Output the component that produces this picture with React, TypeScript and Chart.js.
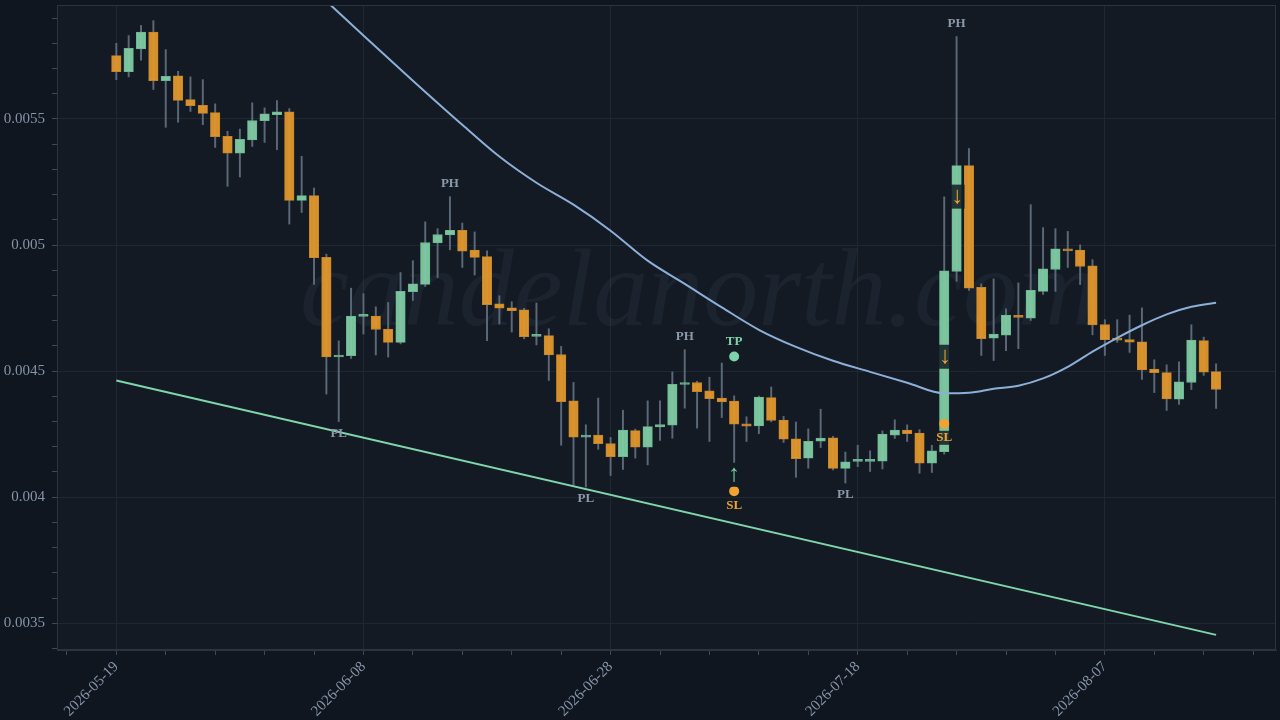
import React, { useEffect, useRef } from 'react';
import { Chart, registerables } from 'chart.js';

Chart.register(...registerables);

// ---------- data ----------
const xTickDays = [0, 20, 40, 60, 80];
const xTickLabels = ['2026-05-19', '2026-06-08', '2026-06-28', '2026-07-18', '2026-08-07'];
const yTickValues = [0.0035, 0.004, 0.0045, 0.005, 0.0055];
const yTickLabels = ['0.0035', '0.004', '0.0045', '0.005', '0.0055'];

const opens = [
  0.005751, 0.005688, 0.005778, 0.005845, 0.005652, 0.005671, 0.005577, 0.005554, 0.005525, 0.005431,
  0.005364, 0.005417, 0.005493, 0.005517, 0.005528, 0.005177, 0.005196, 0.004951, 0.004556, 0.004561,
  0.004717, 0.004718, 0.004667, 0.004614, 0.004815, 0.004844, 0.005008, 0.005040, 0.005058, 0.004980,
  0.004954, 0.004767, 0.004751, 0.004743, 0.004638, 0.004641, 0.004566, 0.004382, 0.004238, 0.004246,
  0.004213, 0.004161, 0.004264, 0.004198, 0.004279, 0.004286, 0.004447, 0.004455, 0.004422, 0.004393,
  0.004381, 0.004291, 0.004283, 0.004395, 0.004306, 0.004231, 0.004155, 0.004222, 0.004235, 0.004114,
  0.004142, 0.004142, 0.004143, 0.004246, 0.004266, 0.004254, 0.004135, 0.004181, 0.004895, 0.005315,
  0.004832, 0.004631, 0.004643, 0.004719, 0.004710, 0.004816, 0.004903, 0.004984, 0.004980, 0.004918,
  0.004685, 0.004628, 0.004625, 0.004616, 0.004508, 0.004494, 0.004389, 0.004455, 0.004621, 0.004498,
];
const highs = [
  0.005800, 0.005831, 0.005871, 0.005890, 0.005775, 0.005689, 0.005667, 0.005656, 0.005560, 0.005451,
  0.005460, 0.005564, 0.005544, 0.005573, 0.005541, 0.005352, 0.005226, 0.004964, 0.004620, 0.004829,
  0.004807, 0.004755, 0.004772, 0.004891, 0.004938, 0.005092, 0.005065, 0.005192, 0.005087, 0.005052,
  0.004977, 0.004799, 0.004775, 0.004749, 0.004770, 0.004668, 0.004598, 0.004455, 0.004287, 0.004393,
  0.004237, 0.004345, 0.004270, 0.004382, 0.004382, 0.004497, 0.004585, 0.004460, 0.004476, 0.004532,
  0.004402, 0.004319, 0.004401, 0.004437, 0.004321, 0.004298, 0.004271, 0.004349, 0.004241, 0.004179,
  0.004206, 0.004184, 0.004263, 0.004307, 0.004287, 0.004268, 0.004206, 0.005191, 0.005827, 0.005383,
  0.004846, 0.004866, 0.004747, 0.004850, 0.005160, 0.005069, 0.005065, 0.005054, 0.005001, 0.004942,
  0.004704, 0.004704, 0.004722, 0.004751, 0.004545, 0.004525, 0.004537, 0.004684, 0.004635, 0.004529,
];
const lows = [
  0.005656, 0.005667, 0.005733, 0.005617, 0.005467, 0.005487, 0.005530, 0.005477, 0.005387, 0.005233,
  0.005270, 0.005391, 0.005407, 0.005378, 0.005083, 0.005129, 0.004844, 0.004409, 0.004300, 0.004550,
  0.004647, 0.004564, 0.004556, 0.004608, 0.004780, 0.004836, 0.004871, 0.004981, 0.004911, 0.004881,
  0.004621, 0.004687, 0.004655, 0.004628, 0.004604, 0.004463, 0.004206, 0.004048, 0.004040, 0.004190,
  0.004086, 0.004110, 0.004155, 0.004128, 0.004225, 0.004234, 0.004353, 0.004274, 0.004221, 0.004316,
  0.004137, 0.004221, 0.004252, 0.004299, 0.004217, 0.004079, 0.004115, 0.004197, 0.004108, 0.004056,
  0.004121, 0.004102, 0.004112, 0.004233, 0.004221, 0.004095, 0.004098, 0.004171, 0.004856, 0.004820,
  0.004562, 0.004542, 0.004581, 0.004589, 0.004701, 0.004804, 0.004816, 0.004911, 0.004843, 0.004644,
  0.004562, 0.004614, 0.004574, 0.004467, 0.004415, 0.004344, 0.004368, 0.004427, 0.004483, 0.004352,
];
const closes = [
  0.005688, 0.005780, 0.005845, 0.005652, 0.005669, 0.005574, 0.005553, 0.005522, 0.005430, 0.005364,
  0.005419, 0.005494, 0.005520, 0.005528, 0.005177, 0.005196, 0.004950, 0.004556, 0.004562, 0.004718,
  0.004719, 0.004665, 0.004614, 0.004816, 0.004846, 0.005010, 0.005042, 0.005058, 0.004976, 0.004951,
  0.004764, 0.004750, 0.004740, 0.004637, 0.004643, 0.004564, 0.004379, 0.004238, 0.004244, 0.004212,
  0.004161, 0.004266, 0.004198, 0.004280, 0.004288, 0.004448, 0.004455, 0.004419, 0.004391, 0.004378,
  0.004290, 0.004282, 0.004397, 0.004304, 0.004230, 0.004153, 0.004222, 0.004234, 0.004114, 0.004140,
  0.004144, 0.004145, 0.004250, 0.004266, 0.004252, 0.004135, 0.004184, 0.004898, 0.005315, 0.004829,
  0.004629, 0.004647, 0.004722, 0.004713, 0.004820, 0.004906, 0.004985, 0.004977, 0.004915, 0.004683,
  0.004625, 0.004623, 0.004615, 0.004505, 0.004494, 0.004390, 0.004458, 0.004623, 0.004496, 0.004427,
];

// moving average
const maDays = [16, 20, 24, 28, 31, 34, 37, 40, 43, 46, 49, 52, 55, 58, 61, 64, 67, 69, 71, 73, 75, 77, 79, 81, 83, 85, 87, 89];
const maValues = [
  0.006013, 0.005831, 0.005652, 0.005477, 0.005351, 0.005247, 0.005160, 0.005057, 0.004938, 0.004846,
  0.004753, 0.004664, 0.004596, 0.004541, 0.004497, 0.004454, 0.004412, 0.004414, 0.004430, 0.004442,
  0.004471, 0.004517, 0.004577, 0.004632, 0.004682, 0.004725, 0.004755, 0.004771,
];

// lower trend line
const trendDays = [0, 89];
const trendValues = [0.004463, 0.003454];

// pivots and trade marks
const pivotHighDays = [27, 46, 68];
const pivotLowDays = [18, 38, 59];
const tpDays = [50];
const tpValues = [0.004558];
const slDays = [50, 67];
const slValues = [0.004024, 0.004291];
const upArrowDays = [50];
const upArrowValues = [0.004089];
const downArrowDays = [67, 68];
const downArrowValues = [0.004557, 0.005192];

// ---------- style ----------
const X_MIN = -4.8;
const X_MAX = 93.85;
const Y_MIN = 0.003394;
const Y_MAX = 0.005952;
const OUTER_BG = '#10161f';
const INNER_BG = '#131a24';
const GRID = '#1e2832';
const AXIS = '#2a3542';
const TICK = '#3e4a58';
const LABEL = '#8494a8';
const UP = 'rgba(127,203,163,0.95)';
const UP_BORDER = '#6cb58f';
const DOWN = 'rgba(224,151,44,0.95)';
const DOWN_BORDER = '#c4852a';
const WICK = '#5b6878';
const MA_COLOR = '#8cafd8';
const TREND_COLOR = '#7fd6aa';
const GREEN_MARK = '#7fd3a8';
const ORANGE_MARK = '#f0a232';
const PIVOT_COLOR = '#8a99ab';
const BOX_BG = 'rgba(19,28,36,0.85)';
const FONT = "'Liberation Serif', 'Times New Roman', serif";

const days = opens.map((_, i) => i);

function drawLabel(
  ctx: CanvasRenderingContext2D,
  text: string,
  x: number,
  y: number,
  color: string,
  font: string,
  box: boolean,
  boxH: number,
  boxW?: number,
) {
  ctx.font = font;
  const w = boxW ?? ctx.measureText(text).width + 6;
  if (box) {
    ctx.fillStyle = BOX_BG;
    ctx.fillRect(x - w / 2, y - boxH / 2, w, boxH);
  }
  ctx.fillStyle = color;
  ctx.textAlign = 'center';
  ctx.textBaseline = 'middle';
  ctx.fillText(text, x, y);
}

const decorPlugin = {
  id: 'decor',
  beforeDraw(chart: any) {
    const { ctx, chartArea: a, width, height } = chart;
    ctx.save();
    ctx.fillStyle = OUTER_BG;
    ctx.fillRect(0, 0, width, height);
    ctx.fillStyle = INNER_BG;
    ctx.fillRect(a.left, a.top, a.right - a.left, a.bottom - a.top);
    ctx.restore();
  },
  beforeDatasetsDraw(chart: any) {
    const { ctx, chartArea: a } = chart;
    ctx.save();
    ctx.beginPath();
    ctx.rect(a.left, a.top, a.right - a.left, a.bottom - a.top);
    ctx.clip();
    ctx.font = `italic 110px ${FONT}`;
    ctx.fillStyle = 'rgba(140,160,180,0.07)';
    ctx.textAlign = 'left';
    ctx.textBaseline = 'alphabetic';
    ctx.fillText('candelanorth.com', 300, 325);
    ctx.restore();
  },
  afterDatasetsDraw(chart: any) {
    const { ctx } = chart;
    const xs = chart.scales.x;
    const ys = chart.scales.y;
    ctx.save();
    const pivotFont = `bold 13px ${FONT}`;
    pivotHighDays.forEach((d) => {
      drawLabel(ctx, 'PH', xs.getPixelForValue(d), ys.getPixelForValue(highs[d]) - 13, PIVOT_COLOR, pivotFont, false, 0);
    });
    pivotLowDays.forEach((d) => {
      drawLabel(ctx, 'PL', xs.getPixelForValue(d), ys.getPixelForValue(lows[d]) + 12, PIVOT_COLOR, pivotFont, false, 0);
    });
    const markFont = `bold 13px ${FONT}`;
    tpDays.forEach((d, i) => {
      const x = xs.getPixelForValue(d);
      const y = ys.getPixelForValue(tpValues[i]);
      ctx.fillStyle = GREEN_MARK;
      ctx.beginPath();
      ctx.arc(x, y, 5, 0, Math.PI * 2);
      ctx.fill();
      drawLabel(ctx, 'TP', x, y - 14.5, GREEN_MARK, markFont, true, 14);
    });
    slDays.forEach((d, i) => {
      const x = xs.getPixelForValue(d);
      const y = ys.getPixelForValue(slValues[i]);
      ctx.fillStyle = ORANGE_MARK;
      ctx.beginPath();
      ctx.arc(x, y, 5, 0, Math.PI * 2);
      ctx.fill();
      drawLabel(ctx, 'SL', x, y + 14, ORANGE_MARK, markFont, true, 14);
    });
    const arrowFont = `bold 24px ${FONT}`;
    upArrowDays.forEach((d, i) => {
      drawLabel(ctx, '\u2191', xs.getPixelForValue(d), ys.getPixelForValue(upArrowValues[i]), GREEN_MARK, arrowFont, true, 24, 14);
    });
    downArrowDays.forEach((d, i) => {
      drawLabel(ctx, '\u2193', xs.getPixelForValue(d) + 1, ys.getPixelForValue(downArrowValues[i]), ORANGE_MARK, arrowFont, true, 24, 14);
    });
    ctx.restore();
  },
  afterDraw(chart: any) {
    const { ctx, chartArea: a } = chart;
    ctx.save();
    ctx.strokeStyle = AXIS;
    ctx.lineWidth = 1;
    ctx.strokeRect(a.left + 0.5, a.top + 0.5, a.right - a.left - 1, a.bottom - a.top - 1);
    ctx.restore();
  },
};

export default function App() {
  const ref = useRef<HTMLCanvasElement>(null);

  useEffect(() => {
    document.body.style.margin = '0';
    document.body.style.background = OUTER_BG;
    const canvas = ref.current;
    if (!canvas) return;

    const bodies = days.map((i) => ({ x: i, y: [opens[i], closes[i]] }));
    const wicks = days.map((i) => ({ x: i, y: [lows[i], highs[i]] }));
    const bodyColors = days.map((i) => (closes[i] >= opens[i] ? UP : DOWN));
    const bodyBorders = days.map((i) => (closes[i] >= opens[i] ? UP_BORDER : DOWN_BORDER));
    const maPoints = maDays.map((d, i) => ({ x: d, y: maValues[i] }));
    const trendPoints = trendDays.map((d, i) => ({ x: d, y: trendValues[i] }));

    const chart = new Chart(canvas, {
      type: 'bar',
      data: {
        datasets: [
          {
            type: 'line',
            label: 'MA',
            data: maPoints,
            borderColor: MA_COLOR,
            borderWidth: 2,
            pointRadius: 0,
            cubicInterpolationMode: 'monotone',
            order: 0,
          } as any,
          {
            type: 'line',
            label: 'Trend',
            data: trendPoints,
            borderColor: TREND_COLOR,
            borderWidth: 2,
            pointRadius: 0,
            order: 1,
          } as any,
          {
            type: 'bar',
            label: 'Body',
            data: bodies,
            backgroundColor: bodyColors,
            borderColor: bodyBorders,
            borderWidth: 1,
            borderSkipped: false,
            barThickness: 9.5,
            minBarLength: 2,
            grouped: false,
            order: 2,
          } as any,
          {
            type: 'bar',
            label: 'Wick',
            data: wicks,
            backgroundColor: WICK,
            borderWidth: 0,
            barThickness: 1.3,
            grouped: false,
            order: 3,
          } as any,
        ],
      },
      options: {
        responsive: false,
        animation: false,
        layout: { padding: { top: 5, right: 4, left: 0, bottom: 0 } },
        plugins: { legend: { display: false }, tooltip: { enabled: false } },
        scales: {
          x: {
            type: 'linear',
            min: X_MIN,
            max: X_MAX,
            offset: false,
            afterFit: (s: any) => {
              s.height = 70;
              s.paddingLeft = 0;
              s.paddingRight = 0;
              s.paddingTop = 0;
              s.paddingBottom = 0;
            },
            grid: {
              color: (c: any) => (c.tick && xTickDays.some((d) => Math.abs(d - c.tick.value) < 1e-6) ? GRID : 'rgba(0,0,0,0)'),
              tickColor: TICK,
              tickLength: 5,
              offset: false,
            },
            border: { color: AXIS },
            ticks: {
              stepSize: 4,
              includeBounds: false,
              autoSkip: false,
              minRotation: 45,
              maxRotation: 45,
              padding: 3,
              color: LABEL,
              font: { family: FONT, size: 15 },
              callback: (v: any) => {
                const idx = xTickDays.findIndex((d) => Math.abs(d - Number(v)) < 1e-6);
                return idx >= 0 ? xTickLabels[idx] : '';
              },
            },
          },
          y: {
            type: 'linear',
            min: Y_MIN,
            max: Y_MAX,
            afterFit: (s: any) => {
              s.width = 57;
              s.paddingLeft = 0;
              s.paddingRight = 0;
              s.paddingTop = 0;
              s.paddingBottom = 0;
            },
            grid: {
              color: (c: any) => (c.tick && yTickValues.some((d) => Math.abs(d - c.tick.value) < 1e-9) ? GRID : 'rgba(0,0,0,0)'),
              tickColor: TICK,
              tickLength: 5,
            },
            border: { color: AXIS },
            ticks: {
              stepSize: 0.0001,
              includeBounds: false,
              autoSkip: false,
              padding: 7,
              color: LABEL,
              font: { family: FONT, size: 15 },
              callback: (v: any) => {
                const idx = yTickValues.findIndex((d) => Math.abs(d - Number(v)) < 1e-9);
                return idx >= 0 ? yTickLabels[idx] : '';
              },
            },
          },
        },
      } as any,
      plugins: [decorPlugin as any],
    });

    return () => chart.destroy();
  }, []);

  return (
    <div style={{ width: 1280, height: 720 }}>
      <canvas ref={ref} width={1280} height={720} style={{ display: 'block' }} />
    </div>
  );
}
